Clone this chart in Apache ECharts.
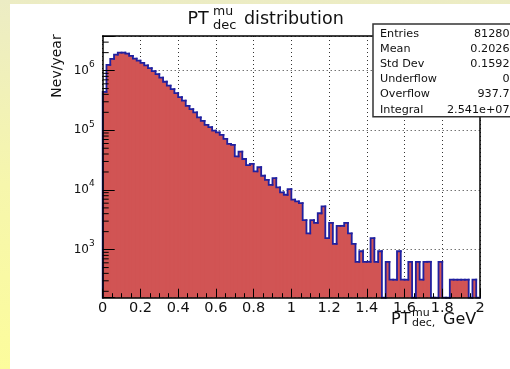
<!DOCTYPE html>
<html>
<head>
<meta charset="utf-8">
<script src="https://cdn.jsdelivr.net/npm/echarts@6/dist/echarts.min.js"></script>
<style>
  html, body { margin: 0; padding: 0; background: #fff; }
  #chart { width: 510px; height: 369px; }
</style>
</head>
<body>
<div id="chart"></div>
<script>
// Histogram range and contents (events per year in each 0.02 GeV bin)
const X_MIN = 0;
const X_MAX = 2;
const counts = [
  440000, 1250000, 1570000, 1850000, 2000000, 2000000, 1930000, 1760000, 1590000, 1470000,
  1350000, 1220000, 1100000, 980000, 870000, 760000, 650000, 560000, 490000, 420000,
  358000, 315000, 257000, 226000, 199000, 164000, 144000, 123000, 113000, 99000,
  92000, 84000, 72000, 59000, 57000, 36500, 44000, 33000, 26000, 27400,
  20400, 24000, 17300, 14800, 12200, 15800, 11000, 9100, 8300, 10300,
  6900, 6450, 6000, 3126, 1876, 3126, 2814, 4064, 5314, 1563,
  2814, 1250, 2501, 2501, 2814, 1876, 1250, 625, 938, 625,
  625, 1563, 625, 938, 0, 625, 313, 313, 938, 313,
  313, 625, 0, 625, 313, 625, 625, 0, 0, 625,
  0, 0, 313, 313, 313, 313, 313, 0, 313, 0
];

// Vertical (log) axis range
const Y_MIN = 156.3;
const Y_MAX = 3.8e6;
const X_TICK_STEP = 0.2;
const minorMultipliers = [2, 3, 4, 5, 6, 7, 8, 9];
const decades = [100, 1000, 10000, 100000, 1000000];

// Statistics box
const statNames = ['Entries', 'Mean', 'Std Dev', 'Underflow', 'Overflow', 'Integral'];
const statValues = ['81280', '0.2026', '0.1592', '0', '937.7', '2.541e+07'];

const FONT = 'DejaVu Sans';
const FILL = '#d15454';
const LINE = '#20209f';
const INK = '#111';

const binWidth = (X_MAX - X_MIN) / counts.length;
const binData = counts.map((c, i) => [X_MIN + i * binWidth, X_MIN + (i + 1) * binWidth, c]);

const minorTickData = [];
decades.forEach(d => minorMultipliers.forEach(m => {
  const v = d * m;
  if (v > Y_MIN && v < Y_MAX) minorTickData.push([X_MIN, v]);
}));

function barTop(api, params, x, v) {
  const cs = params.coordSys;
  const bottom = cs.y + cs.height;
  if (!(v > 0)) return bottom;
  return Math.min(api.coord([x, v])[1], bottom);
}

const chart = echarts.init(document.getElementById('chart'), null, { renderer: 'canvas', width: 510, height: 369 });

const option = {
  animation: false,
  backgroundColor: 'transparent',
  grid: { left: 102.7, right: 30, top: 36, bottom: 71.3, containLabel: false, outerBoundsMode: 'none' },
  xAxis: [
    {
      type: 'value', min: X_MIN, max: X_MAX, interval: X_TICK_STEP, position: 'bottom', z: 10,
      axisLine: { show: true, onZero: false, lineStyle: { color: '#000', width: 1.5 } },
      axisTick: { show: true, inside: true, length: 9, lineStyle: { color: '#000', width: 1 } },
      minorTick: { show: true, splitNumber: 4, length: 4.5, lineStyle: { color: '#000', width: 1 } },
      axisLabel: { show: true, margin: 3, fontFamily: FONT, fontSize: 14.5, color: INK },
      splitLine: { show: false }
    },
    {
      type: 'value', min: X_MIN, max: X_MAX, interval: X_TICK_STEP, position: 'top', z: 0,
      axisLine: { show: true, onZero: false, lineStyle: { color: '#000', width: 1.5 } },
      axisTick: { show: false }, axisLabel: { show: false },
      splitLine: { show: true, lineStyle: { color: '#333', width: 1, type: [1, 3] } }
    }
  ],
  yAxis: [
    {
      type: 'log', logBase: 10, min: Y_MIN, max: Y_MAX, position: 'left', z: 10,
      axisLine: { show: true, onZero: false, lineStyle: { color: '#000', width: 1.5 } },
      axisTick: { show: true, inside: true, length: 12, lineStyle: { color: '#000', width: 1 } },
      axisLabel: {
        show: true, margin: 8,
        formatter: v => {
          const e = Math.log10(v);
          const r = Math.round(e);
          if (Math.abs(e - r) > 1e-6) return '';
          return '{b|10}{e|' + r + '}';
        },
        rich: {
          b: { fontFamily: FONT, fontSize: 12, color: INK },
          e: { fontFamily: FONT, fontSize: 9, color: INK, padding: [0, 0, 12, 0] }
        }
      },
      splitLine: { show: false }
    },
    {
      type: 'log', logBase: 10, min: Y_MIN, max: Y_MAX, position: 'right', z: 0,
      axisLine: { show: true, onZero: false, lineStyle: { color: '#000', width: 1.5 } },
      axisTick: { show: false }, axisLabel: { show: false },
      splitLine: { show: true, lineStyle: { color: '#333', width: 1, type: [1, 3] } }
    }
  ],
  series: [
    {
      // filled bins; a thin strip bridges each edge to the next bin so no seam shows
      type: 'custom', xAxisIndex: 0, yAxisIndex: 0, z: 2, silent: true,
      data: binData, encode: { x: [0, 1], y: 2 },
      renderItem(params, api) {
        const i = params.dataIndex;
        const x0 = api.value(0), x1 = api.value(1), v = api.value(2);
        const cs = params.coordSys;
        const bottom = cs.y + cs.height;
        const top = barTop(api, params, x0, v);
        const px0 = api.coord([x0, Y_MIN])[0];
        const px1 = api.coord([x1, Y_MIN])[0];
        const children = [{
          type: 'rect',
          shape: { x: px0, y: top, width: px1 - px0, height: bottom - top },
          style: { fill: FILL }
        }];
        if (i < counts.length - 1) {
          const nextTop = barTop(api, params, x1, counts[i + 1]);
          const stripTop = Math.max(top, nextTop);
          if (stripTop < bottom) {
            children.push({
              type: 'rect',
              shape: { x: px1 - 1, y: stripTop, width: 2, height: bottom - stripTop },
              style: { fill: FILL }
            });
          }
        }
        return { type: 'group', children };
      }
    },
    {
      // step outline
      type: 'custom', xAxisIndex: 0, yAxisIndex: 0, z: 3, silent: true,
      data: binData, encode: { x: [0, 1], y: 2 },
      renderItem(params, api) {
        const i = params.dataIndex;
        const x0 = api.value(0), x1 = api.value(1), v = api.value(2);
        const cs = params.coordSys;
        const bottom = cs.y + cs.height;
        const prev = i > 0 ? counts[i - 1] : 0;
        const yPrev = barTop(api, params, x0, prev);
        const yTop = barTop(api, params, x0, v);
        const px0 = api.coord([x0, Y_MIN])[0];
        const px1 = api.coord([x1, Y_MIN])[0];
        const pts = [[px0, yPrev], [px0, yTop], [px1, yTop]];
        if (i === counts.length - 1) pts.push([px1, bottom]);
        return {
          type: 'polyline',
          shape: { points: pts },
          style: { stroke: LINE, lineWidth: 1.8, fill: 'none', lineCap: 'square', lineJoin: 'miter' }
        };
      }
    },
    {
      // minor ticks of the log axis (2..9 in each decade)
      type: 'custom', xAxisIndex: 0, yAxisIndex: 0, z: 12, silent: true,
      data: minorTickData, encode: { x: 0, y: 1 },
      renderItem(params, api) {
        const p = api.coord([api.value(0), api.value(1)]);
        return {
          type: 'line',
          shape: { x1: p[0], y1: p[1], x2: p[0] + 6, y2: p[1] },
          style: { stroke: '#000', lineWidth: 1 }
        };
      }
    }
  ],
  graphic: [
    // canvas background: yellow edge bands and white pad
    {
      type: 'rect', z: -100, silent: true,
      shape: { x: 0, y: 0, width: 510, height: 369 },
      style: {
        fill: new echarts.graphic.LinearGradient(0, 0, 0, 1, [
          { offset: 0, color: '#ececc4' },
          { offset: 0.5, color: '#f6f6ac' },
          { offset: 1, color: '#fcfc9c' }
        ])
      }
    },
    { type: 'rect', z: -99, silent: true, shape: { x: 10, y: 4, width: 500, height: 365 }, style: { fill: '#fff' } },

    // title
    { type: 'text', z: 100, x: 187.5, y: 19.6, style: { text: 'PT', font: '17.5px ' + FONT, fill: INK, textAlign: 'left', textVerticalAlign: 'middle' } },
    { type: 'text', z: 100, x: 213, y: 11.5, style: { text: 'mu', font: '12.5px ' + FONT, fill: INK, textAlign: 'left', textVerticalAlign: 'middle' } },
    { type: 'text', z: 100, x: 213, y: 25.3, style: { text: 'dec', font: '13px ' + FONT, fill: INK, textAlign: 'left', textVerticalAlign: 'middle' } },
    { type: 'text', z: 100, x: 244, y: 19.6, style: { text: 'distribution', font: '17.5px ' + FONT, fill: INK, textAlign: 'left', textVerticalAlign: 'middle' } },

    // x axis title
    { type: 'text', z: 100, x: 391, y: 319.9, style: { text: 'PT', font: '16px ' + FONT, fill: INK, textAlign: 'left', textVerticalAlign: 'middle' } },
    { type: 'text', z: 100, x: 412, y: 313.3, style: { text: 'mu', font: '11px ' + FONT, fill: INK, textAlign: 'left', textVerticalAlign: 'middle' } },
    { type: 'text', z: 100, x: 412, y: 323.5, style: { text: 'dec,', font: '11px ' + FONT, fill: INK, textAlign: 'left', textVerticalAlign: 'middle' } },
    { type: 'text', z: 100, x: 443, y: 319.9, style: { text: 'GeV', font: '16px ' + FONT, fill: INK, textAlign: 'left', textVerticalAlign: 'middle' } },

    // y axis title
    { type: 'text', z: 100, x: 57, y: 66, rotation: Math.PI / 2, style: { text: 'Nev/year', font: '14px ' + FONT, fill: INK, textAlign: 'center', textVerticalAlign: 'middle' } },

    // statistics box
    { type: 'rect', z: 100, silent: true, shape: { x: 373, y: 24, width: 140, height: 92.7 }, style: { fill: '#fff', stroke: '#333', lineWidth: 1.5 } }
  ].concat(statNames.map((n, i) => ({
    type: 'text', z: 101, x: 380, y: 33.7 + i * 15.2,
    style: { text: n, font: '11.2px ' + FONT, fill: INK, textAlign: 'left', textVerticalAlign: 'middle' }
  }))).concat(statValues.map((v, i) => ({
    type: 'text', z: 101, x: 509.5, y: 33.7 + i * 15.2,
    style: { text: v, font: '11.2px ' + FONT, fill: INK, textAlign: 'right', textVerticalAlign: 'middle' }
  })))
};

chart.setOption(option);
</script>
</body>
</html>
